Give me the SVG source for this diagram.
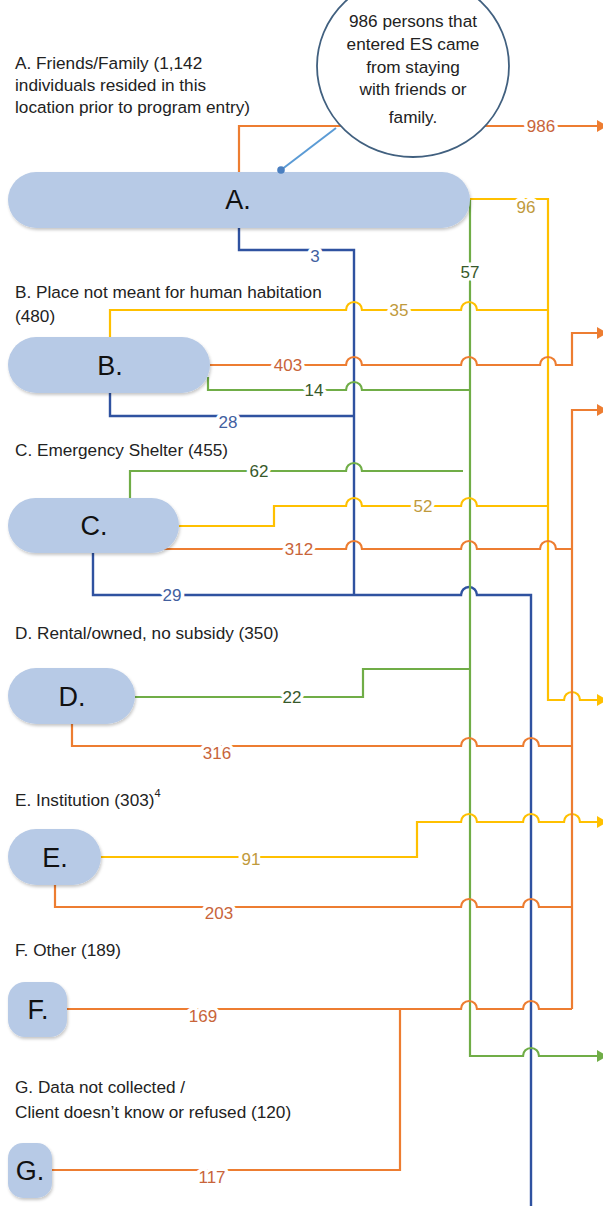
<svg xmlns="http://www.w3.org/2000/svg" width="603" height="1206" viewBox="0 0 603 1206">
<style>
  .bg{fill:#ffffff}
  .node{fill:#b7cae6;filter:url(#sh)}
  .ntxt{font-family:"Liberation Sans",Arial,sans-serif;font-size:27px;fill:#111;text-anchor:middle}
  .desc{font-family:"Liberation Sans",Arial,sans-serif;font-size:17.2px;fill:#222}
  .ctxt{font-family:"Liberation Sans",Arial,sans-serif;font-size:17.2px;fill:#222;text-anchor:middle}
  .ln{fill:none;stroke-width:2.2;stroke-linejoin:miter}
  .o{stroke:#ed7d31}
  .y{stroke:#ffc000}
  .g{stroke:#70ad47}
  .b{stroke:#2f52a0;stroke-width:2.4}
  .lbl{font-family:"Liberation Sans",Arial,sans-serif;font-size:17px;text-anchor:middle;stroke:#ffffff;stroke-width:7;paint-order:stroke;stroke-linejoin:round}
  .lo{fill:#c8643a}
  .ly{fill:#bf9a3c}
  .lg{fill:#37592a}
  .lb{fill:#42609f}
</style>
<defs>
  <filter id="sh" x="-10%" y="-20%" width="120%" height="150%">
    <feDropShadow dx="1" dy="2" stdDeviation="1.6" flood-color="#000" flood-opacity="0.22"/>
  </filter>
  <marker id="aO" markerWidth="10" markerHeight="14" refX="0" refY="7" orient="auto" markerUnits="userSpaceOnUse"><path d="M0,1 L10,7 L0,13 z" fill="#ed7d31"/></marker>
  <marker id="aY" markerWidth="10" markerHeight="14" refX="0" refY="7" orient="auto" markerUnits="userSpaceOnUse"><path d="M0,1 L10,7 L0,13 z" fill="#ffc000"/></marker>
  <marker id="aG" markerWidth="10" markerHeight="14" refX="0" refY="7" orient="auto" markerUnits="userSpaceOnUse"><path d="M0,1 L10,7 L0,13 z" fill="#70ad47"/></marker>
</defs>
<rect class="bg" x="0" y="0" width="603" height="1206"/>

<g id="connectors">
  <!-- blue -->
  <path class="ln b" d="M239 228 V250 H354 V595"/>
  <path class="ln b" d="M110 393 V416 H354"/>
  <path class="ln b" d="M93 553 V595 H461 A8 8 0 0 1 477 595 H531 V1206"/>
  <!-- green -->
  <path class="ln g" d="M470 199 V1056 H523 A8 8 0 0 1 539 1056 H597" marker-end="url(#aG)"/>
  <path class="ln g" d="M208 377 V390 H346 A8 8 0 0 1 362 390 H470"/>
  <path class="ln g" d="M130 498 V471 H346 A8 8 0 0 1 362 471 H463"/>
  <path class="ln g" d="M135 697 H363 V669 H470"/>
  <!-- yellow -->
  <path class="ln y" d="M470 199 H548 V700 H564 A8 8 0 0 1 580 700 H597" marker-end="url(#aY)"/>
  <path class="ln y" d="M110 337 V310 H346 A8 8 0 0 1 362 310 H461 A8 8 0 0 1 477 310 H548"/>
  <path class="ln y" d="M179 526 H274 V506 H346 A8 8 0 0 1 362 506 H461 A8 8 0 0 1 477 506 H548"/>
  <path class="ln y" d="M101 857 H417 V822 H461 A8 8 0 0 1 477 822 H523 A8 8 0 0 1 539 822 H564 A8 8 0 0 1 580 822 H597" marker-end="url(#aY)"/>
  <!-- orange -->
  <path class="ln o" d="M239 172 V126 H597" marker-end="url(#aO)"/>
  <path class="ln o" d="M210 365 H346 A8 8 0 0 1 362 365 H461 A8 8 0 0 1 477 365 H540 A8 8 0 0 1 556 365 H572 V333 H597" marker-end="url(#aO)"/>
  <path class="ln o" d="M163 549 H346 A8 8 0 0 1 362 549 H461 A8 8 0 0 1 477 549 H540 A8 8 0 0 1 556 549 H572"/>
  <path class="ln o" d="M572 1009 V410 H597" marker-end="url(#aO)"/>
  <path class="ln o" d="M72 724 V746 H461 A8 8 0 0 1 477 746 H523 A8 8 0 0 1 539 746 H572"/>
  <path class="ln o" d="M55 885 V907 H461 A8 8 0 0 1 477 907 H523 A8 8 0 0 1 539 907 H572"/>
  <path class="ln o" d="M67 1009 H461 A8 8 0 0 1 477 1009 H523 A8 8 0 0 1 539 1009 H572"/>
  <path class="ln o" d="M52 1170 H400 V1009"/>

  <!-- labels -->
  <text class="lbl lo" x="541" y="132">986</text>
  <text class="lbl lb" x="315" y="262">3</text>
  <text class="lbl ly" x="526" y="213">96</text>
  <text class="lbl lg" x="470" y="278">57</text>
  <text class="lbl ly" x="399" y="316">35</text>
  <text class="lbl lo" x="288" y="371">403</text>
  <text class="lbl lg" x="314" y="396">14</text>
  <text class="lbl lb" x="228" y="428">28</text>
  <text class="lbl lg" x="259" y="477">62</text>
  <text class="lbl ly" x="423" y="512">52</text>
  <text class="lbl lo" x="299" y="555">312</text>
  <text class="lbl lb" x="172" y="601">29</text>
  <text class="lbl lg" x="292" y="703">22</text>
  <text class="lbl lo" x="217" y="759">316</text>
  <text class="lbl ly" x="251" y="865">91</text>
  <text class="lbl lo" x="219" y="919">203</text>
  <text class="lbl lo" x="203" y="1022">169</text>
  <text class="lbl lo" x="212" y="1183">117</text>
</g>

<g id="nodeA">
  <text class="desc" x="15" y="69">A. Friends/Family (1,142</text>
  <text class="desc" x="15" y="91">individuals resided in this</text>
  <text class="desc" x="15" y="113">location prior to program entry)</text>
  <rect class="node" x="8" y="172" width="462" height="56" rx="28"/>
  <text class="ntxt" x="238" y="209">A.</text>
</g>
<g id="nodeB">
  <text class="desc" x="15" y="298">B. Place not meant for human habitation</text>
  <text class="desc" x="15" y="322">(480)</text>
  <rect class="node" x="8" y="337" width="202" height="56" rx="28"/>
  <text class="ntxt" x="110" y="375">B.</text>
</g>
<g id="nodeC">
  <text class="desc" x="15" y="456">C. Emergency Shelter (455)</text>
  <rect class="node" x="8" y="498" width="171" height="55" rx="27.5"/>
  <text class="ntxt" x="94" y="535">C.</text>
</g>
<g id="nodeD">
  <text class="desc" x="15" y="639">D. Rental/owned, no subsidy (350)</text>
  <rect class="node" x="8" y="668" width="127" height="56" rx="28"/>
  <text class="ntxt" x="72" y="706">D.</text>
</g>
<g id="nodeE">
  <text class="desc" x="15" y="806">E. Institution (303)<tspan font-size="11" dy="-9">4</tspan></text>
  <rect class="node" x="8" y="829" width="93" height="56" rx="28"/>
  <text class="ntxt" x="55" y="867">E.</text>
</g>
<g id="nodeF">
  <text class="desc" x="15" y="956">F. Other (189)</text>
  <rect class="node" x="8" y="982" width="59" height="55" rx="17"/>
  <text class="ntxt" x="38" y="1019">F.</text>
</g>
<g id="nodeG">
  <text class="desc" x="15" y="1093">G. Data not collected /</text>
  <text class="desc" x="15" y="1118">Client doesn’t know or refused (120)</text>
  <rect class="node" x="8" y="1143" width="44" height="55" rx="15"/>
  <text class="ntxt" x="30" y="1180">G.</text>
</g>

<g id="callout">
  <line x1="336" y1="128" x2="281" y2="170" stroke="#5b9bd5" stroke-width="2"/>
  <circle cx="281" cy="170" r="3.8" fill="#4a7fc0"/>
  <ellipse cx="413" cy="66" rx="96" ry="91" fill="#ffffff" stroke="#41607f" stroke-width="1.8"/>
  <text class="ctxt" x="413" y="27">986 persons that</text>
  <text class="ctxt" x="413" y="50">entered ES came</text>
  <text class="ctxt" x="413" y="73">from staying</text>
  <text class="ctxt" x="413" y="95">with friends or</text>
  <text class="ctxt" x="413" y="123">family.</text>
</g>
</svg>
